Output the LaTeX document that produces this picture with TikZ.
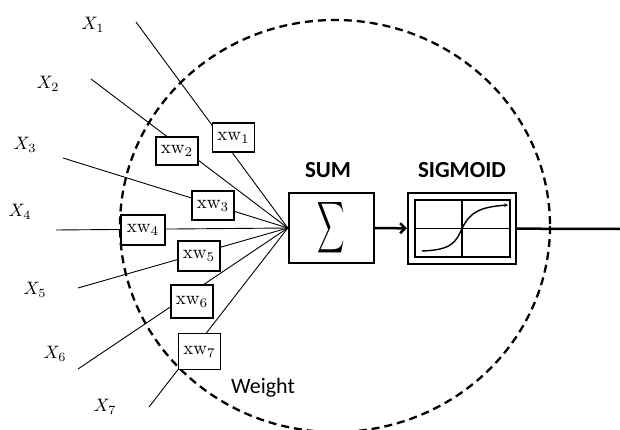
\documentclass[tikz,border=0pt]{standalone}
\usepackage{amsmath}
\usepackage{graphicx}
\usepackage{fontspec}
\setsansfont{Carlito}
\usetikzlibrary{arrows.meta}

\newcommand{\gross}[2]{\scalebox{#1}{$#2$}}

\begin{document}
\begin{tikzpicture}[x=1pt,y=-1pt,
    wbox/.style={draw,line width=1.8pt,fill=white,inner sep=0pt,minimum width=42pt},
    eingang/.style={line width=0.9pt},
    titel/.style={inner sep=0pt,font=\sffamily\bfseries\fontsize{23}{23}\selectfont}]
    \useasboundingbox (0,0) rectangle (620,430);

    % Neuron (gestrichelt)
    \draw[line width=2.3pt,dash pattern=on 8pt off 5pt] (335,226) ellipse [x radius=215, y radius=206];

    % Summe und Sigmoid
    \node[draw,line width=2.4pt,minimum width=85pt,minimum height=70pt,inner sep=0pt] (sum) at (331.5,228)
        {\scalebox{1.9}[3.6]{$\displaystyle\sum$}};
    \node[titel] (sumtxt) at (328,170) {SUM};
    \node[draw,line width=2.2pt,minimum width=108pt,minimum height=71pt] (sig) at (462,228.5) {};
    \node[draw,line width=2pt,minimum width=95pt,minimum height=57pt] (plot) at (sig) {};
    \node[titel] (sigtxt) at (462,170) {SIGMOID};
    \draw[line width=1.5pt] (plot.north) -- (plot.south) (plot.west) -- (plot.east);
    \draw[line width=1.4pt,-{Stealth[length=4pt,width=4pt]}] (422,251)
        .. controls (452,250) and (456,242) .. (plot.center)
        .. controls (470,212) and (480,207) .. (508,205);
    \draw[line width=2.5pt,-{Straight Barb[length=5pt,width=10pt]}] (sum) -- (sig);
    \coordinate (aus) at (620,229);
    \draw[line width=2.5pt] (sig) -- (aus);

    % Eingaenge
    \foreach \i/\sx/\sy in {1/136/22, 2/91/79, 3/63/158, 4/56/230, 5/78/288, 6/78/369, 7/149/407}
        \draw[eingang] (\sx,\sy) coordinate (s\i) -- (sum.west);

    % Gewichte
    \foreach \i/\wx/\wy/\wh in {1/233.5/137.5/29, 2/177/151/28, 3/213/205.5/29, 5/199/256/30, 6/192/301.5/33, 7/199.5/351.5/36}
        \node[wbox,minimum height=\wh pt] (w\i) at (\wx,\wy) {\gross{1.9}{\mathrm{xw}_{\i}}};
    \node[wbox,line width=2.6pt,minimum width=44pt,minimum height=30pt] (w4) at (143,230) {\gross{1.9}{\mathrm{xw}_{4}}};

    \foreach \i/\lx/\ly in {1/93/25, 2/48/84, 3/25/145, 4/20/212, 5/35/290, 6/55/354, 7/105/407}
        \node (x\i) at (\lx,\ly) {\gross{1.8}{X_{\i}}};

    \node[font=\sffamily\fontsize{22}{22}\selectfont] (gewicht) at (263,388) {Weight};
\end{tikzpicture}
\end{document}
